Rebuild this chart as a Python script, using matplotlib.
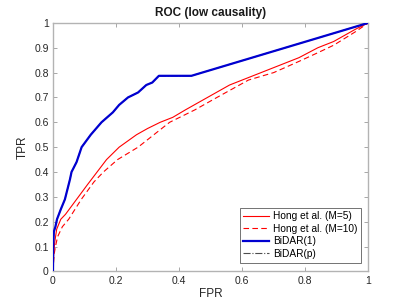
import matplotlib
matplotlib.use('Agg')
import matplotlib.pyplot as plt

plt.rcParams['font.family'] = ['Liberation Sans', 'DejaVu Sans']

# Hong et al. (M=5)
fpr_m5 = [0, 0.003, 0.006, 0.012, 0.025, 0.04, 0.075, 0.11, 0.14, 0.17, 0.21, 0.265,
          0.30, 0.34, 0.38, 0.42, 0.49, 0.56, 0.62, 0.70, 0.78, 0.84, 0.89, 0.96, 1.0]
tpr_m5 = [0, 0.08, 0.12, 0.17, 0.21, 0.23, 0.29, 0.35, 0.40, 0.45, 0.50, 0.55,
          0.575, 0.60, 0.62, 0.65, 0.70, 0.75, 0.78, 0.82, 0.86, 0.90, 0.925, 0.975, 1.0]

# Hong et al. (M=10)
fpr_m10 = [0, 0.004, 0.008, 0.015, 0.03, 0.05, 0.09, 0.13, 0.16, 0.205, 0.27, 0.32,
           0.37, 0.45, 0.52, 0.62, 0.70, 0.78, 0.84, 0.89, 0.96, 1.0]
tpr_m10 = [0, 0.07, 0.10, 0.14, 0.18, 0.21, 0.29, 0.36, 0.40, 0.45, 0.50, 0.55,
           0.60, 0.65, 0.70, 0.77, 0.80, 0.845, 0.88, 0.91, 0.965, 1.0]

# BiDAR(1)
fpr_b1 = [0, 0.001, 0.003, 0.008, 0.013, 0.025, 0.038, 0.054, 0.059, 0.075, 0.091, 0.12,
          0.154, 0.19, 0.21, 0.238, 0.27, 0.296, 0.315, 0.336, 0.439, 1.0]
tpr_b1 = [0, 0.10, 0.16, 0.18, 0.21, 0.25, 0.29, 0.37, 0.40, 0.44, 0.50, 0.55,
          0.60, 0.64, 0.67, 0.70, 0.72, 0.75, 0.76, 0.787, 0.787, 1.0]

# BiDAR(p) - lies under BiDAR(1)
fpr_bp = fpr_b1
tpr_bp = tpr_b1

fig = plt.figure(figsize=(4.07, 3.05), dpi=100)
ax = fig.add_axes([0.13, 0.11, 0.775, 0.815])

ax.plot(fpr_m5, tpr_m5, color='r', lw=0.8, label='Hong et al. (M=5)', zorder=3)
ax.plot(fpr_m10, tpr_m10, color='r', lw=0.8, ls=(0, (5, 3)), label='Hong et al. (M=10)', zorder=3)
ax.plot(fpr_b1, tpr_b1, color='#0000d0', lw=1.6, label='BiDAR(1)', zorder=4)
ax.plot(fpr_bp, tpr_bp, color='0.3', lw=0.8, ls='-.', label='BiDAR(p)', zorder=2)

ax.set_xlim(0, 1)
ax.set_ylim(0, 1)
ax.set_xticks([0, 0.2, 0.4, 0.6, 0.8, 1])
ax.set_xticklabels(['0', '0.2', '0.4', '0.6', '0.8', '1'])
ax.set_yticks([i / 10 for i in range(11)])
ax.set_yticklabels(['0'] + ['0.%d' % i for i in range(1, 10)] + ['1'])
ax.tick_params(direction='in', length=3, width=0.6, color='0.6', labelsize=7.5,
               top=True, right=True, pad=3, labelcolor='0.15')
for s in ax.spines.values():
    s.set_color('0.7')
    s.set_linewidth(1.0)

ax.set_title('ROC (low causality)', fontsize=8.5, fontweight='bold', pad=5, color='0.1')
ax.set_xlabel('FPR', fontsize=8.5, color='0.15', labelpad=2)
ax.set_ylabel('TPR', fontsize=8.5, color='0.15', labelpad=4)

leg = ax.legend(loc='lower right', bbox_to_anchor=(0.978, 0.036), fontsize=7.3,
                frameon=True, fancybox=False, borderaxespad=0,
                handlelength=2.6, handletextpad=0.4,
                borderpad=0.35, labelspacing=0.25)
leg.get_frame().set_edgecolor('0.2')
leg.get_frame().set_linewidth(0.6)

fig.savefig('out.png', dpi=100)
